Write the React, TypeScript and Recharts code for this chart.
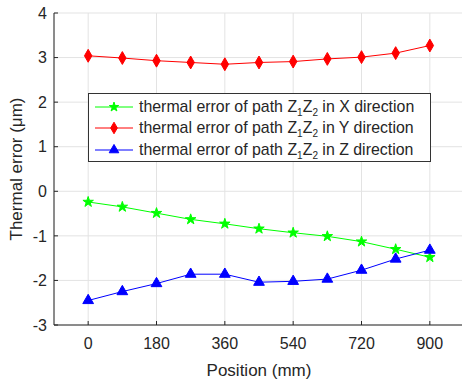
import * as React from "react"
import {
    LineChart,
    Line,
    XAxis,
    YAxis,
    CartesianGrid,
    Label,
    Symbols
} from "recharts"

const positions = [0, 90, 180, 270, 360, 450, 540, 630, 720, 810, 900]
const errX = [-0.24, -0.35, -0.49, -0.63, -0.73, -0.84, -0.93, -1.01, -1.13, -1.30, -1.48]
const errY = [3.04, 2.99, 2.93, 2.89, 2.85, 2.89, 2.91, 2.97, 3.01, 3.10, 3.27]
const errZ = [-2.45, -2.25, -2.07, -1.86, -1.86, -2.04, -2.02, -1.97, -1.77, -1.52, -1.32]

const xTicks = [0, 180, 360, 540, 720, 900]
const yTicks = [-3, -2, -1, 0, 1, 2, 3, 4]

const seriesNames = ["X", "Y", "Z"]

const data = positions.map((p, i) => ({ pos: p, x: errX[i], y: errY[i], z: errZ[i] }))

const FONT = "Arial, 'Liberation Sans', sans-serif"
const AXIS = "#262626"
const GREEN = "#00ff00"
const RED = "#ff0000"
const BLUE = "#0000ff"

const markers: Record<string, { type: any; size: number; color: string }> = {
    x: { type: "star", size: 34, color: GREEN },
    y: { type: "diamond", size: 48, color: RED },
    z: { type: "triangle", size: 50, color: BLUE }
}

const makeDot = (key: string) => (props: any) => {
    const m = markers[key]
    return (
        <Symbols
            key={`${key}-${props.index}`}
            cx={props.cx}
            cy={props.cy}
            type={m.type}
            size={m.size}
            fill={m.color}
            stroke={m.color}
        />
    )
}

const LeftTick = (props: any) => {
    const { x, y, payload } = props
    return (
        <g>
            <line x1={x + 7} y1={y} x2={x + 11} y2={y} stroke={AXIS} />
            <text x={x} y={y} dy="0.36em" textAnchor="end" fontSize={16} fill={AXIS} fontFamily={FONT}>
                {payload.value}
            </text>
        </g>
    )
}

const BottomTick = (props: any) => {
    const { x, y, payload } = props
    return (
        <g>
            <line x1={x} y1={y - 12} x2={x} y2={y - 16} stroke={AXIS} />
            <text x={x} y={y} dy="0.72em" textAnchor="middle" fontSize={16} fill={AXIS} fontFamily={FONT}>
                {payload.value}
            </text>
        </g>
    )
}

const TopTick = (props: any) => {
    const { x, y } = props
    return <line x1={x} y1={y} x2={x} y2={y + 4} stroke={AXIS} />
}

const RightTick = (props: any) => {
    const { x, y } = props
    return <line x1={x} y1={y} x2={x - 4} y2={y} stroke={AXIS} />
}

const legendItems = [
    { key: "x", name: seriesNames[0] },
    { key: "y", name: seriesNames[1] },
    { key: "z", name: seriesNames[2] }
]

const LegendBox = () => (
    <div
        style={{
            position: "absolute",
            left: 88,
            top: 93,
            border: "1px solid #333",
            background: "#fff",
            padding: "2px 0 2px 0",
            fontFamily: FONT,
            fontSize: 15.9,
            color: AXIS,
            boxSizing: "border-box",
            width: 343,
            height: 69
        }}
    >
        {legendItems.map((it) => {
            const m = markers[it.key]
            return (
                <div key={it.key} style={{ display: "flex", alignItems: "center", height: 21.5 }}>
                    <svg width={50} height={20} style={{ flexShrink: 0 }}>
                        <line x1={6} y1={10} x2={44} y2={10} stroke={m.color} strokeWidth={1} />
                        <Symbols cx={25} cy={10} type={m.type} size={m.size * 0.8} fill={m.color} stroke={m.color} />
                    </svg>
                    <span style={{ whiteSpace: "nowrap", lineHeight: "18px" }}>
                        thermal error of path Z<sub style={{ fontSize: 10, lineHeight: 0 }}>1</sub>Z<sub style={{ fontSize: 10, lineHeight: 0 }}>2</sub> in {it.name} direction
                    </span>
                </div>
            )
        })}
    </div>
)

export default function App() {
    return (
        <div style={{ position: "absolute", left: 0, top: 0, width: 462, height: 381, overflow: "hidden", background: "#fff" }}>
            <LineChart
                width={466}
                height={381}
                data={data}
                margin={{ top: 13, right: 2, left: 0, bottom: 0 }}
            >
                <CartesianGrid stroke="#e3e3e3" />
                <XAxis
                    dataKey="pos"
                    type="number"
                    domain={[-90, 990]}
                    ticks={xTicks}
                    allowDataOverflow
                    height={56}
                    tickSize={0}
                    tickMargin={12}
                    tickLine={false}
                    stroke={AXIS}
                    tick={<BottomTick />}
                    interval={0}
                >
                    <Label
                        content={() => (
                            <text x={259} y={376} textAnchor="middle" fontSize={17} fill={AXIS} fontFamily={FONT}>
                                Position (mm)
                            </text>
                        )}
                    />
                </XAxis>
                <XAxis
                    xAxisId="top"
                    orientation="top"
                    dataKey="pos"
                    type="number"
                    domain={[-90, 990]}
                    ticks={xTicks}
                    allowDataOverflow
                    height={0}
                    tickSize={0}
                    tickMargin={0}
                    tickLine={false}
                    stroke={AXIS}
                    tick={<TopTick />}
                    interval={0}
                />
                <YAxis
                    type="number"
                    domain={[-3, 4]}
                    ticks={yTicks}
                    width={54}
                    tickSize={0}
                    tickMargin={7}
                    tickLine={false}
                    stroke={AXIS}
                    tick={<LeftTick />}
                    interval={0}
                >
                    <Label
                        content={() => (
                            <text
                                x={22}
                                y={169}
                                transform="rotate(-90 22 169)"
                                textAnchor="middle"
                                fontSize={17}
                                fill={AXIS}
                                fontFamily={FONT}
                            >
                                Thermal error (μm)
                            </text>
                        )}
                    />
                </YAxis>
                <YAxis
                    yAxisId="r"
                    orientation="right"
                    type="number"
                    domain={[-3, 4]}
                    ticks={yTicks}
                    width={0}
                    tickSize={0}
                    tickMargin={0}
                    tickLine={false}
                    stroke={AXIS}
                    tick={<RightTick />}
                    interval={0}
                />
                <Line
                    dataKey="x"
                    name="X"
                    stroke={GREEN}
                    strokeWidth={1}
                    dot={makeDot("x")}
                    activeDot={false}
                    isAnimationActive={false}
                />
                <Line
                    dataKey="y"
                    name="Y"
                    stroke={RED}
                    strokeWidth={1}
                    dot={makeDot("y")}
                    activeDot={false}
                    isAnimationActive={false}
                />
                <Line
                    dataKey="z"
                    name="Z"
                    stroke={BLUE}
                    strokeWidth={1}
                    dot={makeDot("z")}
                    activeDot={false}
                    isAnimationActive={false}
                />
            </LineChart>
            <LegendBox />
        </div>
    )
}
